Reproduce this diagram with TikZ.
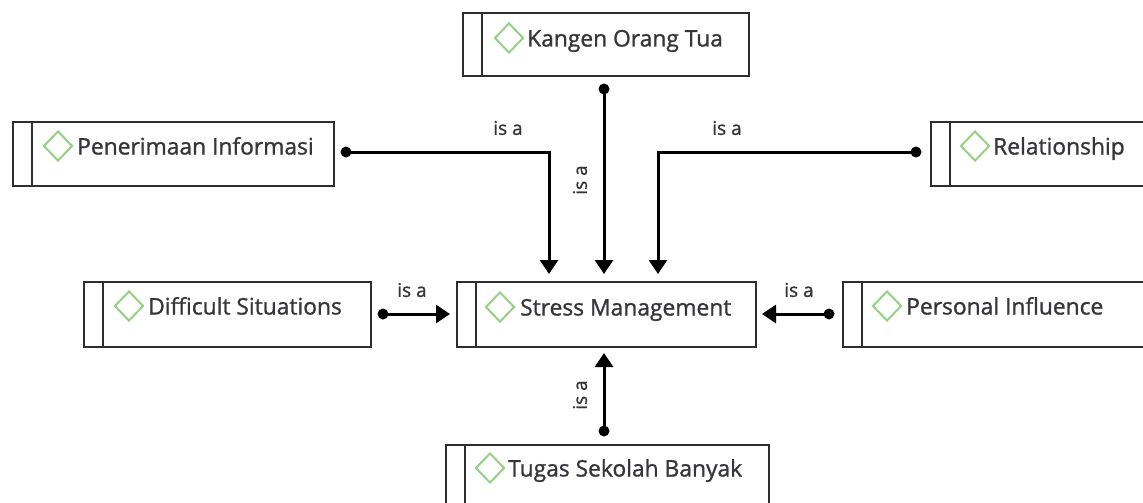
\documentclass[tikz,border=0pt]{standalone}
\usepackage{fontspec}
\setmainfont{Open Sans}
\newfontfamily\thk{Open Sans}[FakeBold=1.1]
\usetikzlibrary{shapes.geometric,arrows.meta}
\definecolor{txtc}{HTML}{35353B}
\definecolor{boxc}{HTML}{2E2E2E}
\definecolor{dgreen}{HTML}{96D083}
\begin{document}
\begin{tikzpicture}[x=1pt,y=-1pt,
 box/.style={draw=boxc, line width=1.8pt, anchor=north west, inner sep=0pt, fill=white},
 dia/.style={diamond, draw=dgreen, line width=2pt, minimum width=29pt, minimum height=30pt, inner sep=0pt},
 txt/.style={anchor=base west, text=txtc, font=\thk\fontsize{22.8}{26}\selectfont, inner sep=0pt},
 conn/.style={line width=3pt, draw=black, -{Triangle[length=14pt,width=18pt]}},
 dotn/.style={circle, fill=black, minimum size=11pt, inner sep=0pt},
 lbl/.style={text=txtc, font=\thk\fontsize{19}{22}\selectfont, inner sep=0pt}
]
\clip (0,0) rectangle (1143,503);
\fill[white] (0,0) rectangle (1143,503);
% boxes
\node[box, minimum width=286pt, minimum height=63pt] (ko) at (462,12) {};
\node[box, minimum width=321pt, minimum height=64pt] (pi) at (12,121) {};
\node[box, minimum width=230pt, minimum height=64pt] (rel) at (930,121) {};
\node[box, minimum width=287pt, minimum height=65pt] (ds) at (83,281) {};
\node[box, minimum width=299pt, minimum height=65pt] (sm) at (456,281) {};
\node[box, minimum width=302pt, minimum height=65pt] (pe) at (842,281) {};
\node[box, minimum width=323pt, minimum height=66pt] (tu) at (445,444) {};
\foreach \b in {ko,pi,rel,ds,sm,pe,tu}{
  \draw[boxc, line width=1.8pt] ([xshift=20pt]\b.north west) -- ([xshift=20pt]\b.south west);
}
% diamonds and texts
\node[dia] (dko) at (509,38) {};
\node[txt] (tko) at (527,46.5) {Kangen Orang Tua};
\node[dia] (dpi) at (58,146) {};
\node[txt] (tpi) at (77,154.5) {Penerimaan Informasi};
\node[dia] (drel) at (975,146) {};
\node[txt] (trel) at (993,154.5) {Relationship};
\node[dia] (dds) at (129,306) {};
\node[txt] (tds) at (148,314.5) {Difficult Situations};
\node[dia] (dsm) at (500,307) {};
\node[txt] (tsm) at (520,315.5) {Stress Management};
\node[dia] (dpe) at (887,306) {};
\node[txt] (tpe) at (906,314.5) {Personal Influence};
\node[dia] (dtu) at (490,468) {};
\node[txt] (ttu) at (508,476.5) {Tugas Sekolah Banyak};
% connector start dots
\node[dotn] (kd) at (604,89) {};
\node[dotn] (pd) at (346,152) {};
\node[dotn] (rd) at (916,152) {};
\node[dotn] (dd) at (383,314) {};
\node[dotn] (ped) at (829,314) {};
\node[dotn] (td) at (604,431) {};
% arrow end coordinates
\coordinate (e1) at (549,274);
\coordinate (e2) at (604,274);
\coordinate (e3) at (658,274);
\coordinate (e4) at (450,314);
\coordinate (e5) at (762,314);
\coordinate (e6) at (604,353);
% connectors
\draw[conn] (kd.center) -- (e2);
\draw[conn] (pd.center) -| (e1);
\draw[conn] (rd.center) -| (e3);
\draw[conn] (dd.center) -- (e4);
\draw[conn] (ped.center) -- (e5);
\draw[conn] (td.center) -- (e6);
% labels
\node[lbl] (l1) at (508,128) {is a};
\node[lbl] (l2) at (727,128) {is a};
\node[lbl] (l3) at (412,290) {is a};
\node[lbl] (l4) at (799,290) {is a};
\node[lbl, rotate=90] (l5) at (580,180) {is a};
\node[lbl, rotate=90] (l6) at (580,395) {is a};
\end{tikzpicture}
\end{document}
